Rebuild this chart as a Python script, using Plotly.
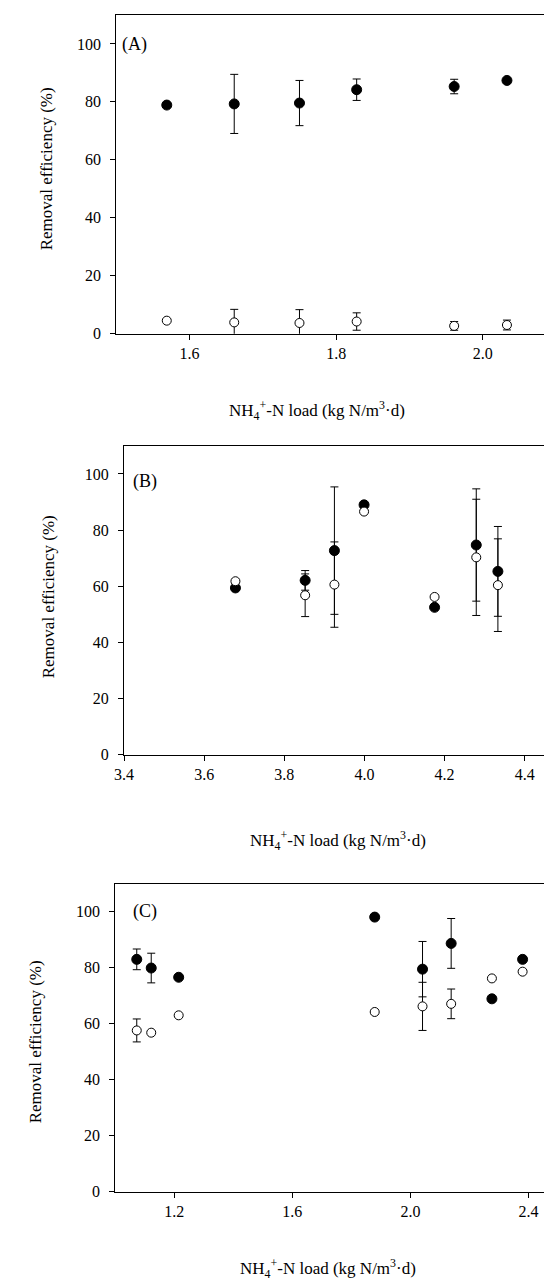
import plotly.graph_objects as go

# ---------------- data ----------------
# Panel A
a_load = [1.569, 1.661, 1.750, 1.828, 1.961, 2.033]
a_filled = [78.9, 79.3, 79.6, 84.2, 85.3, 87.4]
a_filled_err = [0, 10.2, 7.8, 3.7, 2.5, 0]
a_open = [4.5, 3.9, 3.7, 4.2, 2.7, 3.0]
a_open_err = [0, 4.5, 4.6, 3.0, 1.5, 1.7]

# Panel B
b_load = [3.678, 3.852, 3.925, 3.999, 4.175, 4.279, 4.333]
b_filled = [59.4, 62.1, 72.7, 89.0, 52.5, 74.7, 65.3]
b_filled_err = [0, 3.5, 22.7, 0, 0, 20.0, 16.0]
b_open = [61.8, 56.8, 60.6, 86.6, 56.2, 70.3, 60.4]
b_open_err = [0, 7.6, 15.2, 0, 0, 20.7, 16.5]

# Panel C
c_load = [1.073, 1.122, 1.215, 1.879, 2.041, 2.138, 2.276, 2.380]
c_filled = [83.0, 79.9, 76.6, 98.1, 79.5, 88.7, 68.9, 83.0]
c_filled_err = [3.7, 5.3, 0, 0, 9.9, 8.9, 0, 0]
c_open = [57.6, 56.8, 63.0, 64.2, 66.2, 67.1, 76.2, 78.6]
c_open_err = [4.1, 0, 0, 0, 8.6, 5.3, 0, 0]

a_ticks = [1.6, 1.8, 2.0]
b_ticks = [3.4, 3.6, 3.8, 4.0, 4.2, 4.4]
c_ticks = [1.2, 1.6, 2.0, 2.4]
y_ticks = [0, 20, 40, 60, 80, 100]

panel_labels = ["(A)", "(B)", "(C)"]
y_title = "Removal efficiency (%)"
x_title = "NH<sub>4</sub><sup>+</sup>-N load (kg N/m<sup>3</sup>·d)"

# ---------------- layout geometry ----------------
W, H = 552, 1281
FONT = "Liberation Serif, Times New Roman, serif"

def px_x(p):
    return p / W

def px_y(p):
    return 1 - p / H

panels = [
    dict(load=a_load, fil=a_filled, fil_e=a_filled_err, opn=a_open, opn_e=a_open_err,
         xr=[1.5, 2.1], ticks=a_ticks, fmt="{:.1f}",
         xd=[px_x(100), px_x(548)], yd=[px_y(328), px_y(7)], mirror_y=True,
         label_xy=(104, 37), ytitle_xy=(29, 162), xtitle_xy=(305, 405)),
    dict(load=b_load, fil=b_filled, fil_e=b_filled_err, opn=b_open, opn_e=b_open_err,
         xr=[3.4, 4.488], ticks=b_ticks, fmt="{:.1f}",
         xd=[px_x(108), 1.0], yd=[px_y(752), px_y(441)], mirror_y=False,
         label_xy=(115, 477), ytitle_xy=(31, 593), xtitle_xy=(326, 838)),
    dict(load=c_load, fil=c_filled, fil_e=c_filled_err, opn=c_open, opn_e=c_open_err,
         xr=[1.0, 2.5], ticks=c_ticks, fmt="{:.1f}",
         xd=[px_x(99), px_x(550)], yd=[px_y(1192), px_y(882)], mirror_y=True,
         label_xy=(115, 910), ytitle_xy=(18, 1041), xtitle_xy=(316, 1269)),
]

fig = go.Figure()
annotations = []

for i, p in enumerate(panels):
    n = "" if i == 0 else str(i + 1)
    xa, ya = "x" + n, "y" + n
    err_style = dict(type="data", symmetric=True, color="black", thickness=1, width=4)

    fig.add_trace(go.Scatter(
        x=p["load"], y=p["fil"], mode="markers", xaxis=xa, yaxis=ya,
        marker=dict(symbol="circle", size=10, color="black", line=dict(color="black", width=1)),
        error_y=dict(array=p["fil_e"], **err_style), showlegend=False, cliponaxis=False))
    fig.add_trace(go.Scatter(
        x=p["load"], y=p["opn"], mode="markers", xaxis=xa, yaxis=ya,
        marker=dict(symbol="circle", size=9, color="white", line=dict(color="black", width=1)),
        error_y=dict(array=p["opn_e"], **err_style), showlegend=False, cliponaxis=False))

    axis_common = dict(showgrid=False, zeroline=False, showline=True, linecolor="black",
                       linewidth=1, ticks="outside", ticklen=5, tickcolor="black",
                       tickfont=dict(family=FONT, size=16, color="black"))
    fig.update_layout(**{
        "xaxis" + n: dict(domain=p["xd"], range=p["xr"], anchor=ya, mirror=True,
                          tickvals=p["ticks"], ticktext=[p["fmt"].format(t) for t in p["ticks"]],
                          ticklabelstandoff=0, **axis_common),
        "yaxis" + n: dict(domain=p["yd"], range=[0, 110], anchor=xa, mirror=p["mirror_y"],
                          tickvals=y_ticks, ticktext=[str(t) for t in y_ticks],
                          ticklabelstandoff=6, **axis_common),
    })

    lx, ly = p["label_xy"]
    annotations.append(dict(text=panel_labels[i], x=px_x(lx), y=px_y(ly), xref="paper", yref="paper",
                            xanchor="left", yanchor="middle", showarrow=False,
                            font=dict(family=FONT, size=18, color="black")))
    tx, ty = p["ytitle_xy"]
    annotations.append(dict(text=y_title, x=px_x(tx), y=px_y(ty), xref="paper", yref="paper",
                            xanchor="center", yanchor="middle", textangle=-90, showarrow=False,
                            font=dict(family=FONT, size=17, color="black")))
    tx, ty = p["xtitle_xy"]
    annotations.append(dict(text=x_title, x=px_x(tx), y=px_y(ty), xref="paper", yref="paper",
                            xanchor="center", yanchor="middle", showarrow=False,
                            font=dict(family=FONT, size=17, color="black")))

fig.update_layout(width=W, height=H, margin=dict(l=0, r=0, t=0, b=0),
                  paper_bgcolor="white", plot_bgcolor="white",
                  annotations=annotations, showlegend=False)

fig.write_html("out.html")
